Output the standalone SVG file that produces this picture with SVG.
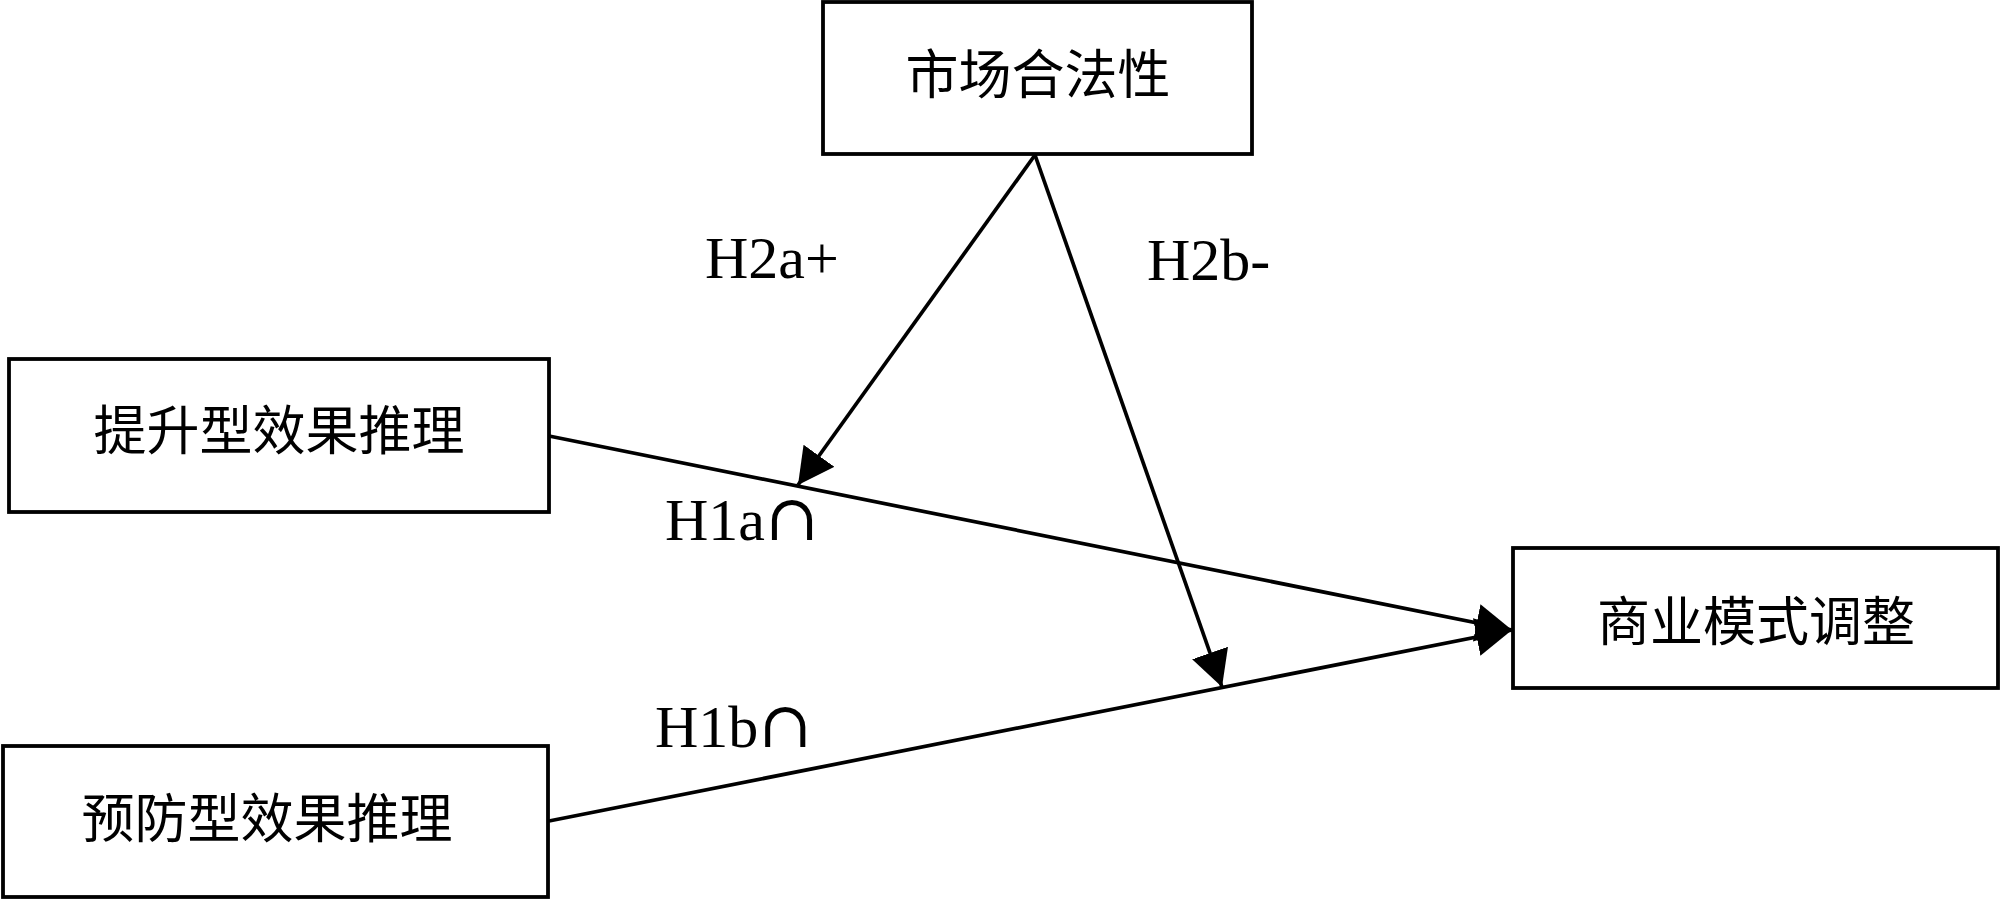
<svg xmlns="http://www.w3.org/2000/svg" width="2000" height="900" viewBox="0 0 2000 900">
  <style>
    .box { fill: #ffffff; stroke: #000000; stroke-width: 3.8; }
    .cn { font-family: "Noto Sans CJK SC", "Noto Sans CJK JP", sans-serif; font-size: 53px; fill: #000000; text-anchor: middle; }
    .lbl { font-family: "Liberation Serif", "DejaVu Serif", serif; font-size: 60px; fill: #000000; }
    .cap { font-family: "DejaVu Serif", serif; font-size: 64px; }
    .conn { stroke: #000000; stroke-width: 3.7; fill: none; marker-end: url(#arrow); }
  </style>
  <defs>
    <marker id="arrow" markerUnits="userSpaceOnUse" markerWidth="40" markerHeight="40" viewBox="0 0 40 40" refX="36" refY="19" orient="auto">
      <path d="M0,0 L36,19 L0,38 Z" fill="#000000"/>
    </marker>
  </defs>
  <rect width="2000" height="900" fill="#ffffff"/>

  <g id="connectors">
    <line class="conn" x1="549" y1="436" x2="1512" y2="630"/>
    <line class="conn" x1="549" y1="821" x2="1512" y2="630"/>
    <line class="conn" x1="1035" y1="155" x2="798" y2="485"/>
    <line class="conn" x1="1035" y1="155" x2="1222" y2="687"/>
  </g>

  <g id="node-market">
    <rect class="box" x="823" y="2" width="429" height="152"/>
    <text class="cn" x="1038" y="94">市场合法性</text>
  </g>
  <g id="node-promotion">
    <rect class="box" x="9" y="359" width="540" height="153"/>
    <text class="cn" x="279" y="450">提升型效果推理</text>
  </g>
  <g id="node-prevention">
    <rect class="box" x="3" y="746" width="545" height="151"/>
    <text class="cn" x="267" y="838">预防型效果推理</text>
  </g>
  <g id="node-bm">
    <rect class="box" x="1513" y="548" width="485" height="140"/>
    <text class="cn" x="1756" y="641">商业模式调整</text>
  </g>

  <g id="labels">
    <text class="lbl" x="705" y="278">H2a+</text>
    <text class="lbl" x="1147" y="280">H2b-</text>
    <text class="lbl" x="665" y="540">H1a<tspan class="cap">∩</tspan></text>
    <text class="lbl" x="655" y="747">H1b<tspan class="cap">∩</tspan></text>
  </g>
</svg>
